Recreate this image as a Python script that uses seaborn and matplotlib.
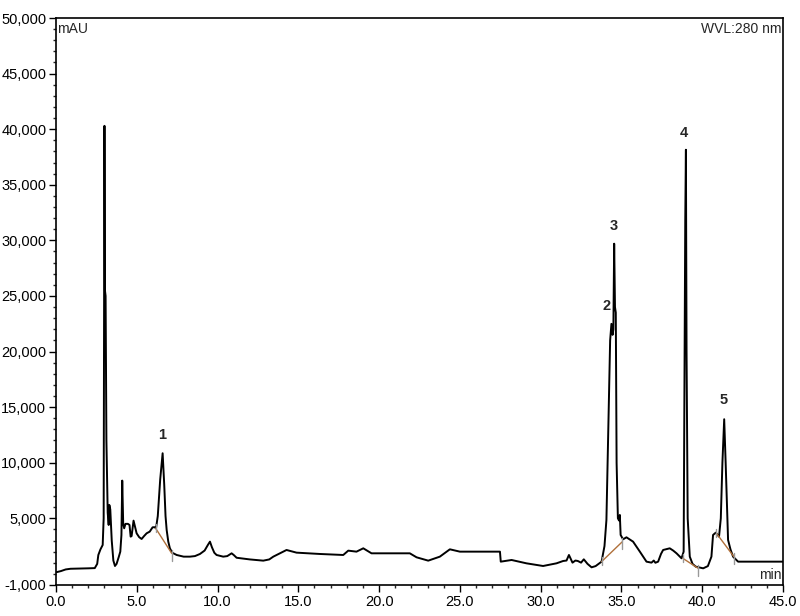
import numpy as np
import pandas as pd
import matplotlib
matplotlib.use("Agg")
import matplotlib.pyplot as plt
from matplotlib.ticker import FuncFormatter, MultipleLocator, FixedLocator
import seaborn as sns

# ---- data ----
time_min = [0.0, 0.3, 0.6, 0.9, 1.5, 2.0, 2.4, 2.55, 2.62, 2.75, 2.89, 2.95, 3.0, 3.03, 3.07,
            3.12, 3.2, 3.26, 3.3, 3.36, 3.45, 3.55, 3.65, 3.75, 3.88, 3.98, 4.05, 4.1, 4.16,
            4.22, 4.3, 4.45, 4.55, 4.62, 4.68, 4.8, 4.88, 4.99, 5.15, 5.3, 5.45, 5.61, 5.8,
            5.98, 6.1, 6.19, 6.3, 6.45, 6.6, 6.7, 6.78, 6.85, 6.95, 7.05, 7.2, 7.47, 7.9,
            8.29, 8.6, 8.91, 9.2, 9.4, 9.53, 9.65, 9.8, 9.94, 10.35, 10.6, 10.87, 11.0,
            11.18, 12.0, 12.83, 13.2, 13.45, 13.86, 14.27, 14.89, 16.34, 17.78, 18.09,
            18.6, 19.02, 19.53, 21.9, 22.32, 23.04, 23.76, 24.38, 25.0, 27.48, 27.53, 28.2,
            29.12, 30.15, 30.98, 31.39, 31.6, 31.75, 31.97, 32.15, 32.3, 32.5, 32.67, 32.9,
            33.15, 33.4, 33.77, 33.95, 34.07, 34.2, 34.3, 34.38, 34.45, 34.5, 34.55, 34.6,
            34.65, 34.7, 34.78, 34.85, 34.9, 34.95, 35.1, 35.31, 35.72, 36.14, 36.55, 36.86,
            37.0, 37.1, 37.27, 37.45, 37.58, 37.99, 38.2, 38.41, 38.72, 38.85, 38.95, 38.99,
            39.03, 39.1, 39.23, 39.4, 39.6, 40.06, 40.35, 40.57, 40.67, 40.84, 41.04, 41.15,
            41.25, 41.36, 41.45, 41.6, 41.75, 41.91, 42.22, 45.0]
absorbance_mau = [143, 250, 400, 460, 480, 500, 520, 900, 1700, 2200, 2600, 5000, 40300, 25500,
                  25000, 12000, 5500, 4400, 6200, 5800, 3000, 1200, 710, 900, 1500, 2000, 3500,
                  8390, 4500, 4100, 4500, 4500, 4400, 3350, 3400, 4790, 4300, 3650, 3300, 3140,
                  3400, 3650, 3800, 4190, 4200, 4100, 5200, 8500, 10850, 8000, 5200, 3950, 2900,
                  2300, 1900, 1700, 1550, 1550, 1600, 1790, 2100, 2600, 2900, 2400, 1900, 1700,
                  1550, 1600, 1850, 1700, 1450, 1300, 1190, 1300, 1550, 1850, 2150, 1910, 1790,
                  1700, 2090, 2000, 2300, 1850, 1850, 1490, 1190, 1550, 2210, 2000, 2000, 1100,
                  1250, 950, 710, 950, 1160, 1200, 1700, 1010, 1200, 1160, 1010, 1310, 900, 590,
                  700, 1100, 2500, 4850, 14000, 21000, 22490, 21500, 22000, 29700, 24000, 23500,
                  10000, 5000, 4800, 5300, 3500, 3110, 3290, 2900, 2000, 1100, 1010, 1200, 1000,
                  1100, 1800, 2150, 2300, 2100, 1850, 1400, 2000, 31800, 38150, 20000, 5000,
                  1550, 900, 650, 500, 700, 1550, 3500, 3710, 3350, 5000, 10000, 13910, 10000,
                  3050, 2200, 1550, 1100, 1100]

# integration baselines (start/end time and value)
baseline_t0 = [6.17, 33.77, 38.80, 40.88]
baseline_v0 = [4100, 1100, 1400, 3650]
baseline_t1 = [7.16, 35.06, 39.75, 41.96]
baseline_v1 = [1850, 2900, 500, 1550]

# peak labels
peak_names = ["1", "2", "3", "4", "5"]
peak_t = [6.56, 34.10, 34.53, 38.86, 41.34]
peak_v = [11900, 23500, 30700, 39000, 15050]

y_major = [-1000, 5000, 10000, 15000, 20000, 25000, 30000, 35000, 40000, 45000, 50000]

# ---- plot ----
sns.set_style("ticks")
plt.rcParams["font.family"] = ["Liberation Sans", "DejaVu Sans"]

fig = plt.figure(figsize=(8.0, 6.16), dpi=100)
ax = fig.add_axes([56 / 800, 1 - 585 / 616, (783 - 56) / 800, (585 - 18) / 616])

df = pd.DataFrame({"t": time_min, "v": absorbance_mau})
sns.lineplot(data=df, x="t", y="v", estimator=None, sort=False, color="black",
             linewidth=1.4, ax=ax)

for a, b, c, d in zip(baseline_t0, baseline_v0, baseline_t1, baseline_v1):
    ax.plot([a, c], [b, d], color="#b0703a", linewidth=1.0)
    ax.plot([c, c], [d - 700, d + 300], color="#999999", linewidth=1.0)
    ax.plot([a, a], [b - 300, b + 400], color="#999999", linewidth=1.0)

for n, t, v in zip(peak_names, peak_t, peak_v):
    ax.text(t, v, n, ha="center", va="bottom", fontsize=10.5, fontweight="bold")

ax.set_xlim(0, 45)
ax.set_ylim(-1000, 50000)
ax.xaxis.set_major_locator(MultipleLocator(5))
ax.xaxis.set_minor_locator(MultipleLocator(1))
ax.yaxis.set_major_locator(FixedLocator(y_major))
ax.yaxis.set_minor_locator(MultipleLocator(1000))
ax.xaxis.set_major_formatter(FuncFormatter(lambda x, p: f"{x:.1f}"))
ax.yaxis.set_major_formatter(FuncFormatter(lambda y, p: f"{y:,.0f}"))
ax.tick_params(axis="both", which="major", direction="out", length=5, width=1.0,
               labelsize=10.5, pad=2, colors="black")
ax.tick_params(axis="both", which="minor", direction="out", length=2.5, width=1.0)
ax.set_xlabel("")
ax.set_ylabel("")
for s in ax.spines.values():
    s.set_visible(True)
    s.set_linewidth(1.2)
    s.set_color("black")

ax.text(0.002, 0.993, "mAU", transform=ax.transAxes, ha="left", va="top", fontsize=10)
ax.text(0.998, 0.993, "WVL:280 nm", transform=ax.transAxes, ha="right", va="top", fontsize=10)
ax.text(0.998, 0.006, "min", transform=ax.transAxes, ha="right", va="bottom", fontsize=10)

fig.savefig("out.png", dpi=100, facecolor="white")
